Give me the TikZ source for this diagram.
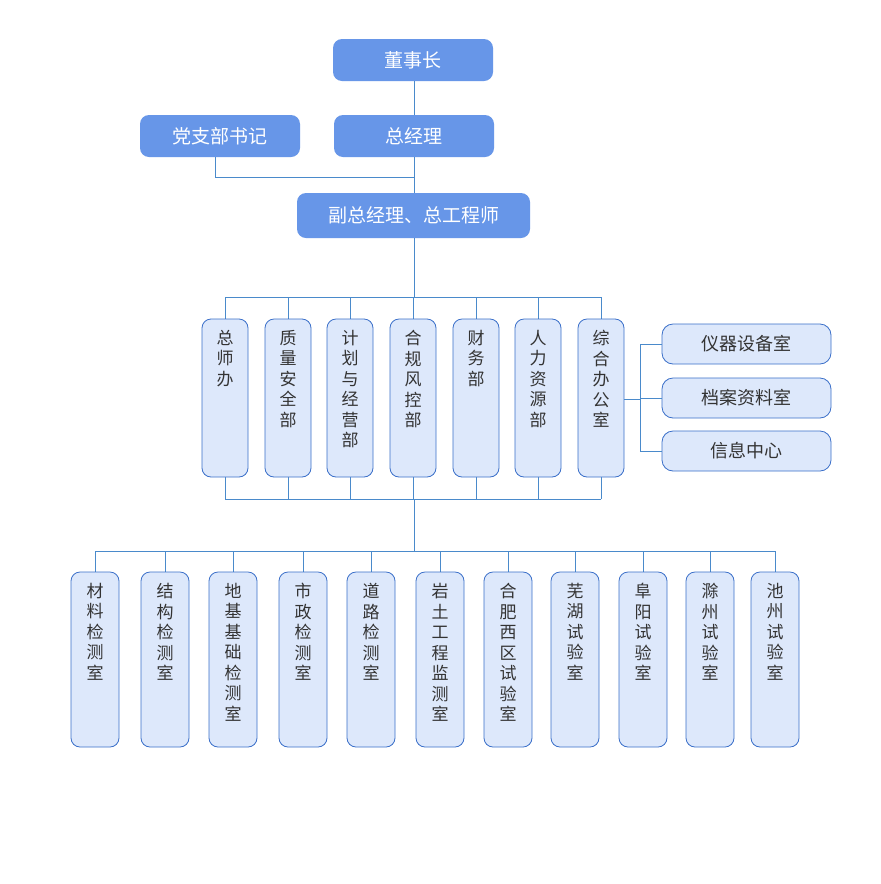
\documentclass[tikz,border=0pt]{standalone}
\usepackage{fontspec}
\setmainfont{Noto Sans CJK SC}
\definecolor{topc}{HTML}{6796E8}
\definecolor{lite}{HTML}{DDE8FB}
\definecolor{bord}{HTML}{3A6FC9}
\definecolor{linec}{HTML}{4A8ACB}
\definecolor{txt}{HTML}{333333}
\begin{document}
\begin{tikzpicture}[x=1pt,y=-1pt,
 topbox/.style={fill=topc,draw=none,rounded corners=9pt,text=white,font=\fontsize{19}{22}\selectfont,inner sep=0pt},
 vbox/.style={fill=lite,draw=bord,line width=0.8pt,rounded corners=9pt,inner sep=0pt},
 hbox/.style={fill=lite,draw=bord,line width=0.8pt,rounded corners=11pt,inner sep=0pt,text=txt,font=\fontsize{18}{21}\selectfont},
 vtxt/.style={anchor=north,text=txt,font=\fontsize{17}{20.5}\selectfont,align=center,inner sep=0pt},
 conn/.style={draw=linec,line width=0.8pt}]
\useasboundingbox (0,0) rectangle (881,884);
\fill[white] (0,0) rectangle (881,884);
% top
\node[topbox,minimum width=160pt,minimum height=42pt] (dsz) at (413,60) {董事长};
\node[topbox,minimum width=160pt,minimum height=42pt] (zjl) at (414,136) {总经理};
\node[topbox,minimum width=160pt,minimum height=42pt] (dzb) at (220,136) {党支部书记};
\node[topbox,minimum width=233pt,minimum height=45pt] (fz) at (413.5,215.5) {副总经理、总工程师};
\coordinate (j1) at (414,177);
\coordinate (j1l) at (215,177);
\draw[conn] (414,81) -- (414,115);
\draw[conn] (414,157) -- (414,193);
\draw[conn] (215,157) -- (j1l) -- (j1);
% middle
\coordinate (tb) at (414,297);
\draw[conn] (414,238) -- (tb);
\draw[conn] (225,297) -- (601,297);
\draw[conn] (225,499) -- (601,499);
\draw[conn] (414,499) -- (414,551);
\foreach \x/\t/\n in {225/总\\师\\办/m1,288/质\\量\\安\\全\\部/m2,350/计\\划\\与\\经\\营\\部/m3,413/合\\规\\风\\控\\部/m4,476/财\\务\\部/m5,538/人\\力\\资\\源\\部/m6,601/综\\合\\办\\公\\室/m7}{
 \draw[conn] (\x,297) -- (\x,499);
 \node[vbox,minimum width=46pt,minimum height=158pt] (\n) at (\x,398) {};
 \node[vtxt] at (\x,330) {\t};
}
% right boxes
\node[hbox,minimum width=169pt,minimum height=40pt] (r1) at (746.5,344) {仪器设备室};
\node[hbox,minimum width=169pt,minimum height=40pt] (r2) at (746.5,398) {档案资料室};
\node[hbox,minimum width=169pt,minimum height=40pt] (r3) at (746.5,451) {信息中心};
\coordinate (b1) at (640,344);
\coordinate (b3) at (640,451);
\draw[conn] (m7.east |- 0,399) -- (640,399);
\draw[conn] (r1.west) -- (b1) -- (b3) -- (r3.west);
\draw[conn] (r2.west) -- (640,398);
% bottom
\draw[conn] (95,551) -- (775,551);
\foreach \x/\t/\n in {95/材\\料\\检\\测\\室/b1,165/结\\构\\检\\测\\室/b2,233/地\\基\\基\\础\\检\\测\\室/b3,303/市\\政\\检\\测\\室/b4,371/道\\路\\检\\测\\室/b5,440/岩\\土\\工\\程\\监\\测\\室/b6,508/合\\肥\\西\\区\\试\\验\\室/b7,575/芜\\湖\\试\\验\\室/b8,643/阜\\阳\\试\\验\\室/b9,710/滁\\州\\试\\验\\室/b10,775/池\\州\\试\\验\\室/b11}{
 \draw[conn] (\x,551) -- (\x,572);
 \node[vbox,minimum width=48pt,minimum height=175pt] (\n) at (\x,659.5) {};
 \node[vtxt] at (\x,583) {\t};
}
\end{tikzpicture}
\end{document}
